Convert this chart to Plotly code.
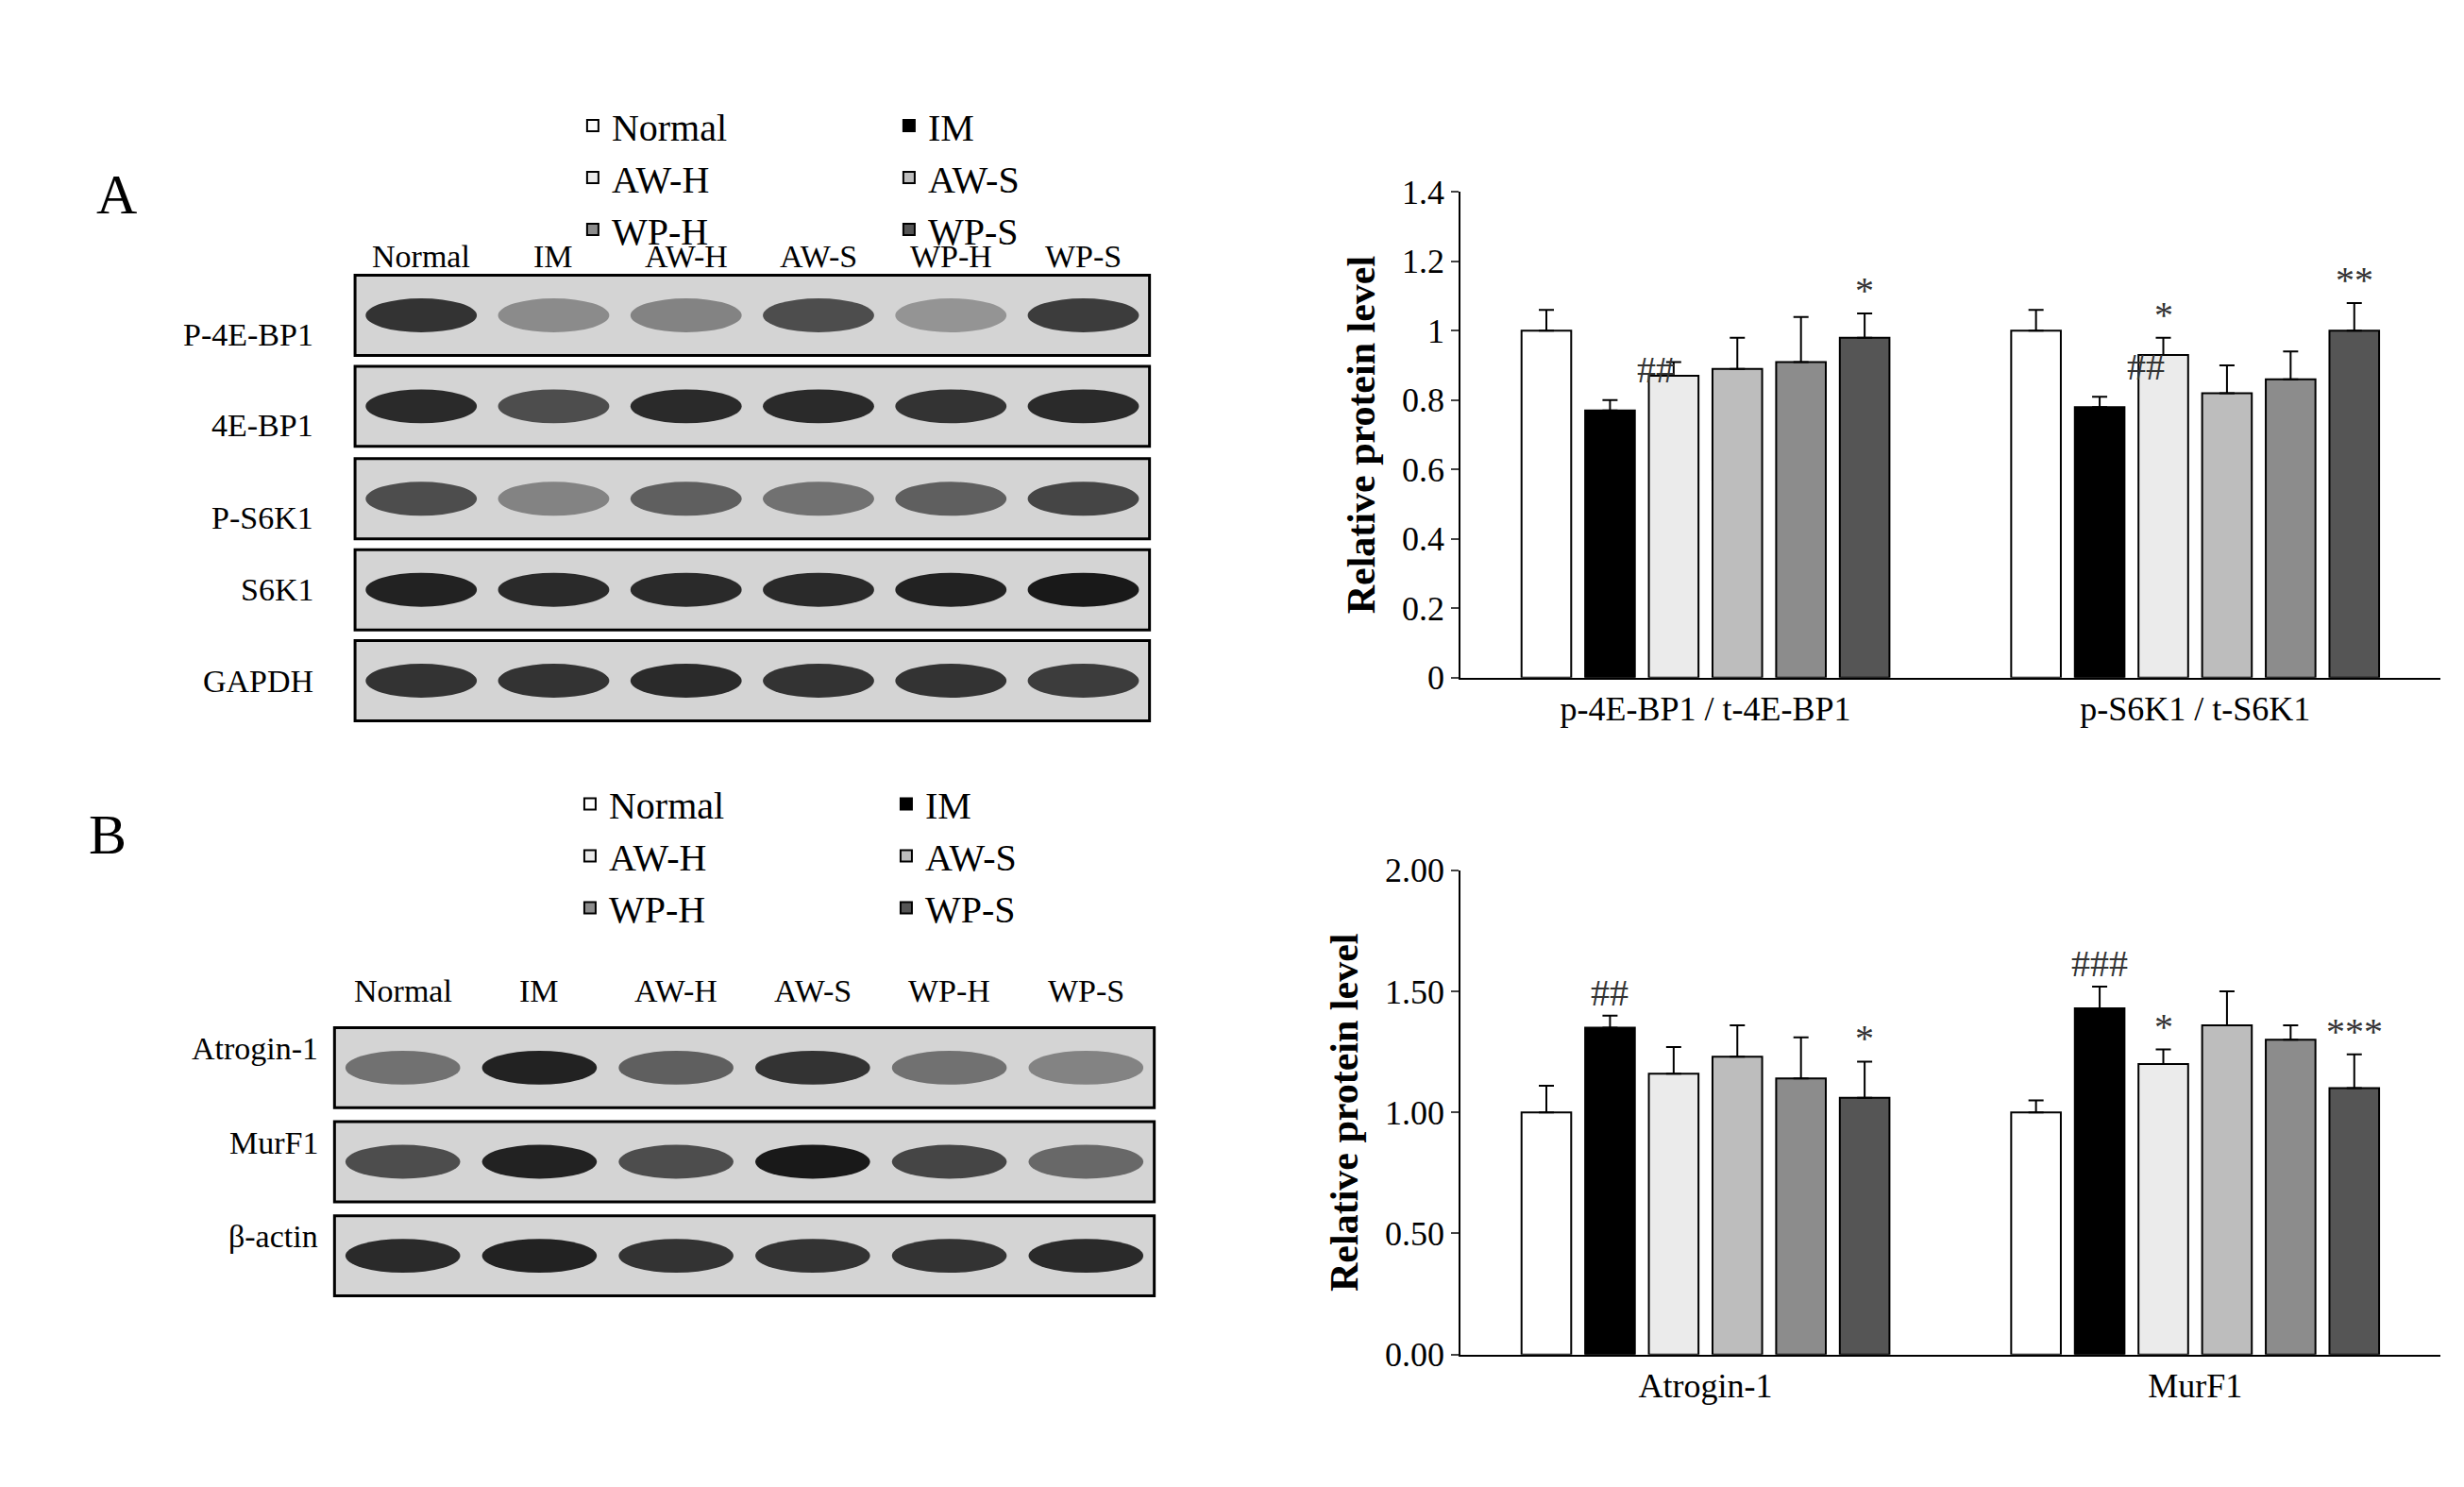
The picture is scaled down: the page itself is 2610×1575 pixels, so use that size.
import plotly.graph_objects as go

groups = ["Normal", "IM", "AW-H", "AW-S", "WP-H", "WP-S"]
colors = ["#ffffff", "#000000", "#ebebeb", "#bdbdbd", "#8c8c8c", "#555555"]

top_cats = ["p-4E-BP1 / t-4E-BP1", "p-S6K1 / t-S6K1"]
top_vals = [[1.0, 1.0], [0.77, 0.78], [0.87, 0.93], [0.89, 0.82], [0.91, 0.86], [0.98, 1.00]]
top_err = [[0.06, 0.06], [0.03, 0.03], [0.04, 0.05], [0.09, 0.08], [0.13, 0.08], [0.07, 0.08]]
top_marks = [["", ""], ["##", "##"], ["", "*"], ["", ""], ["", ""], ["*", "**"]]

bot_cats = ["Atrogin-1", "MurF1"]
bot_vals = [[1.0, 1.0], [1.35, 1.43], [1.16, 1.20], [1.23, 1.36], [1.14, 1.30], [1.06, 1.10]]
bot_err = [[0.11, 0.05], [0.05, 0.09], [0.11, 0.06], [0.13, 0.14], [0.17, 0.06], [0.15, 0.14]]
bot_marks = [["", ""], ["##", "###"], ["", "*"], ["", ""], ["", ""], ["*", "***"]]

blotA_rows = ["P-4E-BP1", "4E-BP1", "P-S6K1", "S6K1", "GAPDH"]
blotA_int = [[0.85, 0.35, 0.4, 0.7, 0.3, 0.8],
             [0.9, 0.7, 0.9, 0.9, 0.85, 0.9],
             [0.7, 0.4, 0.6, 0.5, 0.6, 0.75],
             [0.95, 0.9, 0.9, 0.9, 0.95, 1.0],
             [0.85, 0.85, 0.9, 0.85, 0.85, 0.8]]
blotB_rows = ["Atrogin-1", "MurF1", "β-actin"]
blotB_int = [[0.5, 0.95, 0.6, 0.85, 0.5, 0.4],
             [0.7, 0.95, 0.7, 1.0, 0.75, 0.55],
             [0.9, 0.95, 0.85, 0.85, 0.85, 0.9]]

W, H = 1560.0, 940.0
def px(x): return x / W
def py(y): return 1 - y / H

SERIF = "Liberation Serif"
fig = go.Figure()
bw = 0.13
for i, g in enumerate(groups):
    xs = [c + (i - 2.5) * bw for c in range(2)]
    fig.add_bar(x=xs, y=top_vals[i], width=bw * 0.78, name=g, marker_color=colors[i],
                marker_line=dict(color="black", width=2), xaxis="x", yaxis="y",
                error_y=dict(type="data", array=top_err[i], arrayminus=[0, 0], color="black", thickness=2, width=8),
                legend="legend")
    fig.add_bar(x=xs, y=bot_vals[i], width=bw * 0.78, name=g, marker_color=colors[i],
                marker_line=dict(color="black", width=2), xaxis="x2", yaxis="y2",
                error_y=dict(type="data", array=bot_err[i], arrayminus=[0, 0], color="black", thickness=2, width=8),
                legend="legend2")
    for c in range(2):
        for vals, errs, marks, ax in [(top_vals, top_err, top_marks, ""), (bot_vals, bot_err, bot_marks, "2")]:
            m = marks[i][c]
            if not m:
                continue
            if m.startswith("#") and ax == "":
                fig.add_annotation(x=xs[c] + bw * 0.4, y=vals[i][c] + errs[i][c] + 0.02, xref="x", yref="y",
                                   text=m, showarrow=False, xanchor="left", yanchor="bottom",
                                   font=dict(family=SERIF, size=40, color="#333"))
            else:
                fig.add_annotation(x=xs[c], y=vals[i][c] + errs[i][c], xref="x" + ax, yref="y" + ax,
                                   text=m, showarrow=False, yanchor="bottom",
                                   font=dict(family=SERIF, size=40, color="#333"))

axfont = dict(family=SERIF, size=36, color="black")
common_x = dict(range=[-0.5, 1.5], tickmode="array", tickvals=[0, 1], showline=True, linecolor="black",
                linewidth=2, ticks="", tickfont=axfont, showgrid=False, zeroline=False)
common_y = dict(showline=True, linecolor="black", linewidth=2, ticks="outside", ticklen=8, tickwidth=2,
                tickfont=axfont, showgrid=False, zeroline=False,
                title=dict(text="<b>Relative protein level</b>", font=dict(family=SERIF, size=42, color="black")))
fig.update_layout(
    font=dict(family=SERIF, color="black"),
    xaxis=dict(domain=[px(920), px(1540)], anchor="y", ticktext=top_cats, **common_x),
    yaxis=dict(domain=[py(423), py(108)], anchor="x", range=[0, 1.4], tickvals=[0, .2, .4, .6, .8, 1, 1.2, 1.4],
               ticktext=["0", "0.2", "0.4", "0.6", "0.8", "1", "1.2", "1.4"], **common_y),
    xaxis2=dict(domain=[px(920), px(1540)], anchor="y2", ticktext=bot_cats, **common_x),
    yaxis2=dict(domain=[py(862), py(548)], anchor="x2", range=[0, 2], tickvals=[0, .5, 1, 1.5, 2],
                tickformat=".2f", **common_y),
    barmode="overlay", plot_bgcolor="white", paper_bgcolor="white",
    width=2610, height=1575, margin=dict(l=0, r=0, t=0, b=0),
    legend=dict(orientation="h", x=px(1015), y=py(45), xanchor="left", yanchor="top",
                entrywidth=290, font=dict(family=SERIF, size=40, color="black"), itemwidth=30, tracegroupgap=0),
    legend2=dict(orientation="h", x=px(1010), y=py(485), xanchor="left", yanchor="top",
                 entrywidth=290, font=dict(family=SERIF, size=40, color="black"), itemwidth=30, tracegroupgap=0),
)

for t, x, y in [("A", 55, 88), ("B", 50, 525)]:
    fig.add_annotation(x=px(x), y=py(y), xref="paper", yref="paper", text=t, showarrow=False,
                       font=dict(family=SERIF, size=60, color="black"))

def blot(x0, x1, tops, hgt, label_y, rows, ints, label_x):
    lw = (x1 - x0) / 6
    for j, g in enumerate(groups):
        fig.add_annotation(x=px(x0 + lw * (j + 0.5)), y=py(label_y), xref="paper", yref="paper", text=g,
                           xanchor="center", showarrow=False, font=dict(family=SERIF, size=34, color="black"))
    for r, (name, top) in enumerate(zip(rows, tops)):
        fig.add_shape(type="rect", xref="paper", yref="paper", x0=px(x0), x1=px(x1), y0=py(top + hgt), y1=py(top),
                      fillcolor="#d4d4d4", line=dict(color="black", width=3))
        fig.add_annotation(x=px(label_x), y=py(top + hgt / 2), xref="paper", yref="paper", text=name,
                           showarrow=False, xanchor="right", font=dict(family=SERIF, size=34, color="black"))
        for j, v in enumerate(ints[r]):
            c = int(200 - 185 * v)
            cx = x0 + lw * (j + 0.5)
            fig.add_shape(type="circle", xref="paper", yref="paper", x0=px(cx - lw * 0.42), x1=px(cx + lw * 0.42),
                          y0=py(top + hgt / 2 + 11), y1=py(top + hgt / 2 - 11),
                          fillcolor=f"rgb({c},{c},{c})", line=dict(width=0), opacity=0.95)

blot(220, 723, [162, 221, 281, 340, 399], 52, 137, blotA_rows, blotA_int, 195)
blot(207, 726, [650, 711, 772], 52, 626, blotB_rows, blotB_int, 198)

fig.write_html("out.html")
